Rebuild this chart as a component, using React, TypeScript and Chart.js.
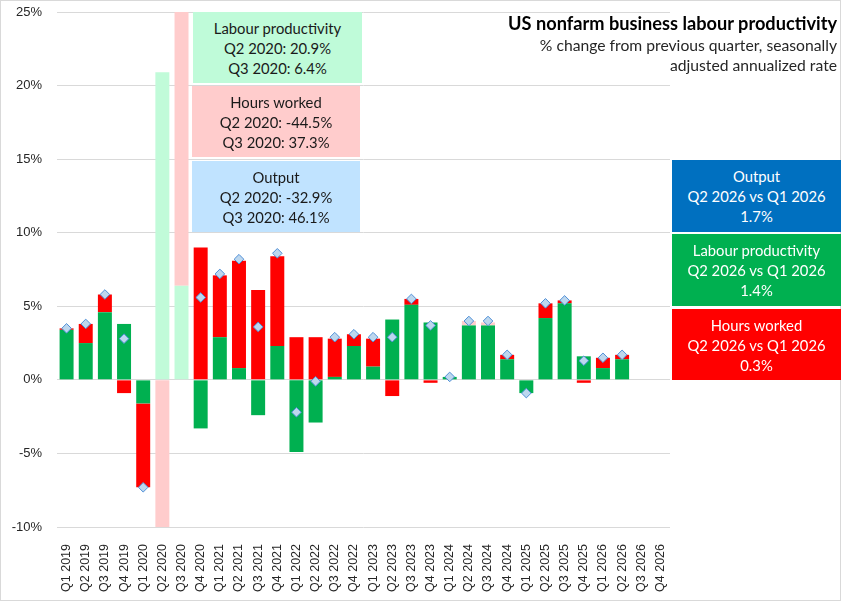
import { useEffect, useRef } from "react";
import { Chart, registerables } from "chart.js";

Chart.register(...registerables);

const quarters = [
  "Q1 2019", "Q2 2019", "Q3 2019", "Q4 2019",
  "Q1 2020", "Q2 2020", "Q3 2020", "Q4 2020",
  "Q1 2021", "Q2 2021", "Q3 2021", "Q4 2021",
  "Q1 2022", "Q2 2022", "Q3 2022", "Q4 2022",
  "Q1 2023", "Q2 2023", "Q3 2023", "Q4 2023",
  "Q1 2024", "Q2 2024", "Q3 2024", "Q4 2024",
  "Q1 2025", "Q2 2025", "Q3 2025", "Q4 2025",
  "Q1 2026", "Q2 2026", "Q3 2026", "Q4 2026",
];

const productivity = [
  3.4, 2.5, 4.6, 3.8, -1.6, null, null, -3.3,
  2.9, 0.8, -2.4, 2.3, -4.9, -2.9, 0.2, 2.3,
  0.9, 4.1, 5.1, 3.9, 0.2, 3.7, 3.7, 1.4,
  -0.9, 4.2, 5.2, 1.6, 0.8, 1.4, null, null,
];

const hoursWorked = [
  0.1, 1.3, 1.2, -0.9, -5.7, null, null, 9.0,
  4.2, 7.3, 6.1, 6.1, 2.9, 2.9, 2.6, 0.8,
  1.9, -1.1, 0.4, -0.2, 0, null, null, 0.3,
  0, 1.0, 0.2, -0.2, 0.7, 0.3, null, null,
];

// pale bars (values run off the axis in 2020)
const productivityPale = [
  null, null, null, null, null, 20.9, 6.4, null,
  null, null, null, null, null, null, null, null,
  null, null, null, null, null, null, null, null,
  null, null, null, null, null, null, null, null,
];

const hoursPale = [
  null, null, null, null, null, -44.5, 37.3, null,
  null, null, null, null, null, null, null, null,
  null, null, null, null, null, 0.3, 0.2, null,
  null, null, null, null, null, null, null, null,
];

const output = [
  3.5, 3.8, 5.8, 2.8, -7.3, -32.9, 46.1, 5.6,
  7.2, 8.2, 3.6, 8.6, -2.2, -0.1, 2.9, 3.1,
  2.9, 2.9, 5.5, 3.7, 0.2, 4.0, 4.0, 1.7,
  -0.9, 5.2, 5.4, 1.3, 1.5, 1.7, null, null,
];

const yTicks = [-10, -5, 0, 5, 10, 15, 20, 25];

const boxFont = "Lato, 'Noto Sans', sans-serif";

function Box({ left, top, width, height, bg, color, lines }: {
  left: number, top: number, width: number, height: number,
  bg: string, color: string, lines: string[]
}) {
  return (
    <div style={{
      position: "absolute", left, top, width, height, background: bg, color,
      fontFamily: boxFont, fontSize: 14.8, lineHeight: "20px", textAlign: "center",
      display: "flex", flexDirection: "column", justifyContent: "center",
    }}>
      {lines.map((l) => <div key={l}>{l}</div>)}
    </div>
  );
}

export default function App() {
  const canvasRef = useRef<HTMLCanvasElement>(null);

  useEffect(() => {
    document.body.style.margin = "0";
    const ctx = canvasRef.current;
    if (!ctx) return;

    const bar = (label: string, data: (number | null)[], color: string) => ({
      type: "bar" as const,
      label,
      data,
      backgroundColor: color,
      borderWidth: 0,
      stack: "bars",
      barPercentage: 0.73,
      categoryPercentage: 1,
    });

    const chart = new Chart(ctx, {
      type: "bar",
      data: {
        labels: quarters,
        datasets: [
          bar("Labour productivity", productivity, "#00B050"),
          bar("Hours worked", hoursWorked, "#FF0000"),
          bar("Labour productivity (2020)", productivityPale, "#C1FBD9"),
          bar("Hours worked (2020)", hoursPale, "#FFCCCC"),
          {
            type: "line" as const,
            label: "Output",
            data: output,
            stack: "output",
            order: -1,
            showLine: false,
            pointStyle: "rectRot",
            pointRadius: 4.8,
            pointBackgroundColor: "#BDD7EE",
            pointBorderColor: "#4F8FD6",
            pointBorderWidth: 1,
          } as any,
        ],
      },
      options: {
        responsive: false,
        animation: false,
        layout: { padding: { top: 12, right: 171, left: 0, bottom: 0 } },
        plugins: { legend: { display: false }, tooltip: { enabled: false } },
        scales: {
          x: {
            stacked: true,
            grid: { display: false },
            border: { display: false },
            afterFit: (s: any) => { s.height = 74; },
            ticks: {
              minRotation: 90,
              maxRotation: 90,
              autoSkip: false,
              padding: 9,
              color: "#262626",
              font: { family: "'Liberation Sans', Arial, sans-serif", size: 12.5 },
            },
          },
          y: {
            stacked: true,
            min: yTicks[0],
            max: yTicks[yTicks.length - 1],
            afterBuildTicks: (s: any) => { s.ticks = yTicks.map((v) => ({ value: v })); },
            afterFit: (s: any) => {
              s.width = 57;
              s.paddingTop = 0;
              s.paddingBottom = 0;
            },
            grid: { color: "#D9D9D9", lineWidth: 1, drawTicks: false },
            border: { display: false },
            ticks: {
              padding: 15,
              color: "#262626",
              font: { family: "'Liberation Sans', Arial, sans-serif", size: 13 },
              callback: (v: any) => `${v}%`,
            },
          },
        },
      },
    });

    return () => {
      chart.destroy();
    };
  }, []);

  return (
    <div style={{ position: "relative", width: 841, height: 601, background: "#fff", overflow: "hidden" }}>
      <canvas ref={canvasRef} width={841} height={601} style={{ position: "absolute", left: 0, top: 0 }}></canvas>
      <div style={{ position: "absolute", left: 0, top: 0, width: 839, height: 599, border: "1px solid #D9D9D9", pointerEvents: "none" }}></div>

      <div style={{
        position: "absolute", right: 4, top: 12, textAlign: "right", fontFamily: boxFont, color: "#000",
      }}>
        <div style={{ fontWeight: 700, fontSize: 18.2, lineHeight: "23px" }}>US nonfarm business labour productivity</div>
        <div style={{ fontSize: 15.7, lineHeight: "20px", color: "#262626" }}>% change from previous quarter, seasonally</div>
        <div style={{ fontSize: 15.7, lineHeight: "20px", color: "#262626" }}>adjusted annualized rate</div>
      </div>

      <Box left={193} top={12} width={169} height={71} bg="#BFFBD9" color="#1A1A1A"
        lines={["Labour productivity", "Q2 2020: 20.9%", "Q3 2020: 6.4%"]} />
      <Box left={192} top={86} width={168} height={71} bg="#FFCCCC" color="#1A1A1A"
        lines={["Hours worked", "Q2 2020: -44.5%", "Q3 2020: 37.3%"]} />
      <Box left={192} top={161} width={168} height={71} bg="#C0E3FF" color="#1A1A1A"
        lines={["Output", "Q2 2020: -32.9%", "Q3 2020: 46.1%"]} />

      <Box left={672} top={160} width={169} height={72} bg="#0070C0" color="#fff"
        lines={["Output", "Q2 2026 vs Q1 2026", "1.7%"]} />
      <Box left={672} top={234} width={169} height={72} bg="#00B050" color="#fff"
        lines={["Labour productivity", "Q2 2026 vs Q1 2026", "1.4%"]} />
      <Box left={672} top={309} width={169} height={71} bg="#FF0000" color="#fff"
        lines={["Hours worked", "Q2 2026 vs Q1 2026", "0.3%"]} />
    </div>
  );
}
